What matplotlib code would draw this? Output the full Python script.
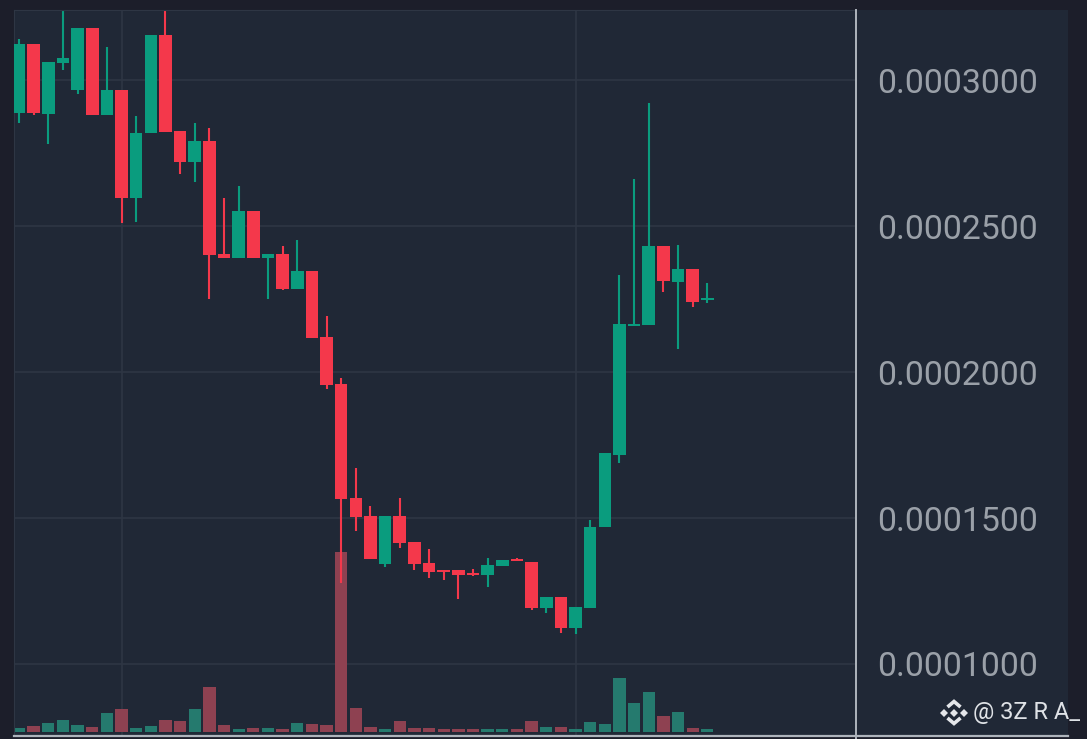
import matplotlib
matplotlib.use("Agg")
import matplotlib.pyplot as plt
from matplotlib.lines import Line2D
from matplotlib.patches import Rectangle
import numpy as np

# prices in units of 1e-7
opens = [2887,3123,2884,3058,2966,3178,2880,2966,2596,2819,3154,2825,2719,2791,2404,2390,2551,2390,2404,2284,2346,2120,1959,1568,1507,1342,1507,1418,1346,1322,1322,1312,1305,1336,1360,1349,1192,1229,1123,1192,1469,1716,2158,2161,2432,2308,2353,2247]
closes = [3123,2887,3062,3075,3178,2880,2966,2596,2819,3154,2822,2719,2791,2401,2390,2551,2390,2404,2284,2346,2116,1955,1565,1503,1360,1507,1414,1342,1315,1315,1305,1305,1339,1356,1353,1192,1229,1123,1195,1469,1723,2164,2164,2432,2312,2353,2240,2253]
highs = [3140,3123,3062,3240,3178,3178,3113,2966,2877,3154,3240,2825,2853,2836,2596,2637,2551,2404,2432,2452,2346,2192,1979,1671,1541,1507,1568,1418,1394,1322,1322,1325,1363,1356,1363,1349,1229,1229,1195,1493,1723,2332,2661,2921,2432,2435,2353,2305]
lows = [2853,2880,2781,3034,2952,2880,2880,2510,2514,2819,2822,2678,2651,2250,2390,2390,2390,2250,2281,2284,2116,1942,1277,1455,1360,1332,1397,1322,1295,1288,1223,1301,1264,1336,1353,1185,1175,1106,1103,1469,1469,1688,2158,2161,2274,2079,2223,2236]
volumes = [3.5,5.5,8.5,11.5,6.5,4.5,18.5,22.5,3.5,5.5,11.5,10.5,22.5,44.5,6.5,2.5,3.5,3.5,2.5,8.5,7.5,6.5,179.5,23.5,4.5,2.5,10.5,3.5,3.5,2.5,2.5,2.5,2.5,2.5,2.5,10.5,4.5,4.5,2.5,9.5,7.5,53.5,28.5,39.5,15.5,19.5,3.5,2.5]
price_ticks = [1000,1500,2000,2500,3000]
price_labels = ["0.0001000","0.0001500","0.0002000","0.0002500","0.0003000"]
time_ticks = [7,38]

W,H = 1087,739
BG="#202836"; OUT="#1c1e2a"; GRID="#2e3644"; UP="#0a9c7e"; DN="#f4384b"; VUP="#257a6e"; VDN="#8e4151"; LINE="#aeb4bc"; TXT="#9aa0a8"; MARK="#e4e6ea"
fig = plt.figure(figsize=(W/100,H/100),dpi=100,facecolor=OUT)
L,R,T,B = 14,856,10,735
fig.patches.append(Rectangle((L/W,1-B/H),(1068-L)/W,(B-T)/H,transform=fig.transFigure,facecolor=BG,edgecolor="none",zorder=-5))
ax = fig.add_axes([L/W,1-B/H,(R-L)/W,(B-T)/H])
ax.patch.set_visible(False)

px_dx=14.645; price_per_px=3.4247
ax.set_xlim((L-19)/px_dx,(R-19)/px_dx)
ax.set_ylim(1000+(664-B)*price_per_px,1000+(664-T)*price_per_px)
x=np.arange(len(opens))
cols=[UP if c>=o else DN for o,c in zip(opens,closes)]
vcols=[VUP if c>=o else VDN for o,c in zip(opens,closes)]
vol_base=1000+(664-731.5)*price_per_px
ax.bar(x,np.array(volumes)*price_per_px,bottom=vol_base,width=0.84,color=vcols,zorder=1)
ax.vlines(x,lows,highs,colors=cols,linewidth=1.5,zorder=2)
ax.bar(x,np.abs(np.array(closes)-np.array(opens)),bottom=np.minimum(opens,closes),width=0.86,color=cols,zorder=3)

ax.set_xticks(time_ticks); ax.set_xticklabels([])
ax.set_yticks(price_ticks); ax.set_yticklabels(price_labels,family="Roboto",fontsize=24.3,color=TXT)
ax.yaxis.tick_right()
ax.tick_params(axis="both",length=0)
ax.tick_params(axis="y",pad=15.5)
ax.grid(True,color=GRID,linewidth=1.2,zorder=0)
ax.set_axisbelow(True)
for s in ax.spines.values(): s.set_visible(False)
ax.spines["top"].set_visible(True); ax.spines["top"].set_color(GRID)
ax.spines["left"].set_visible(True); ax.spines["left"].set_color(GRID)

fig.add_artist(Line2D([L/W,1068/W],[1-735.5/H]*2,color=LINE,linewidth=1.6))
fig.add_artist(Line2D([856/W]*2,[1-10/H,0],color=LINE,linewidth=1.4))

# watermark
fig.text(973/W,1-712/H,"@ 3Z R A_",family="Roboto",fontsize=17,color="#dfe2e6",va="center",ha="left")
cx,cy=954,712.5
for dx,dy,s in [(0,0,6),(-10,0,5.5),(10,0,5.5)]:
    fig.add_artist(Line2D([(cx+dx)/W],[1-(cy+dy)/H],marker="D",markersize=s*0.72,color=MARK,linestyle="none",markeredgewidth=0))
for sgn in (-1,1):
    xs=[(cx-6.5)/W,cx/W,(cx+6.5)/W]
    ys=[1-(cy+sgn*5.5)/H,1-(cy+sgn*11)/H,1-(cy+sgn*5.5)/H]
    fig.add_artist(Line2D(xs,ys,color=MARK,linewidth=2.6,solid_joinstyle="miter",solid_capstyle="butt"))

fig.savefig("out.png",dpi=100,facecolor=OUT)
